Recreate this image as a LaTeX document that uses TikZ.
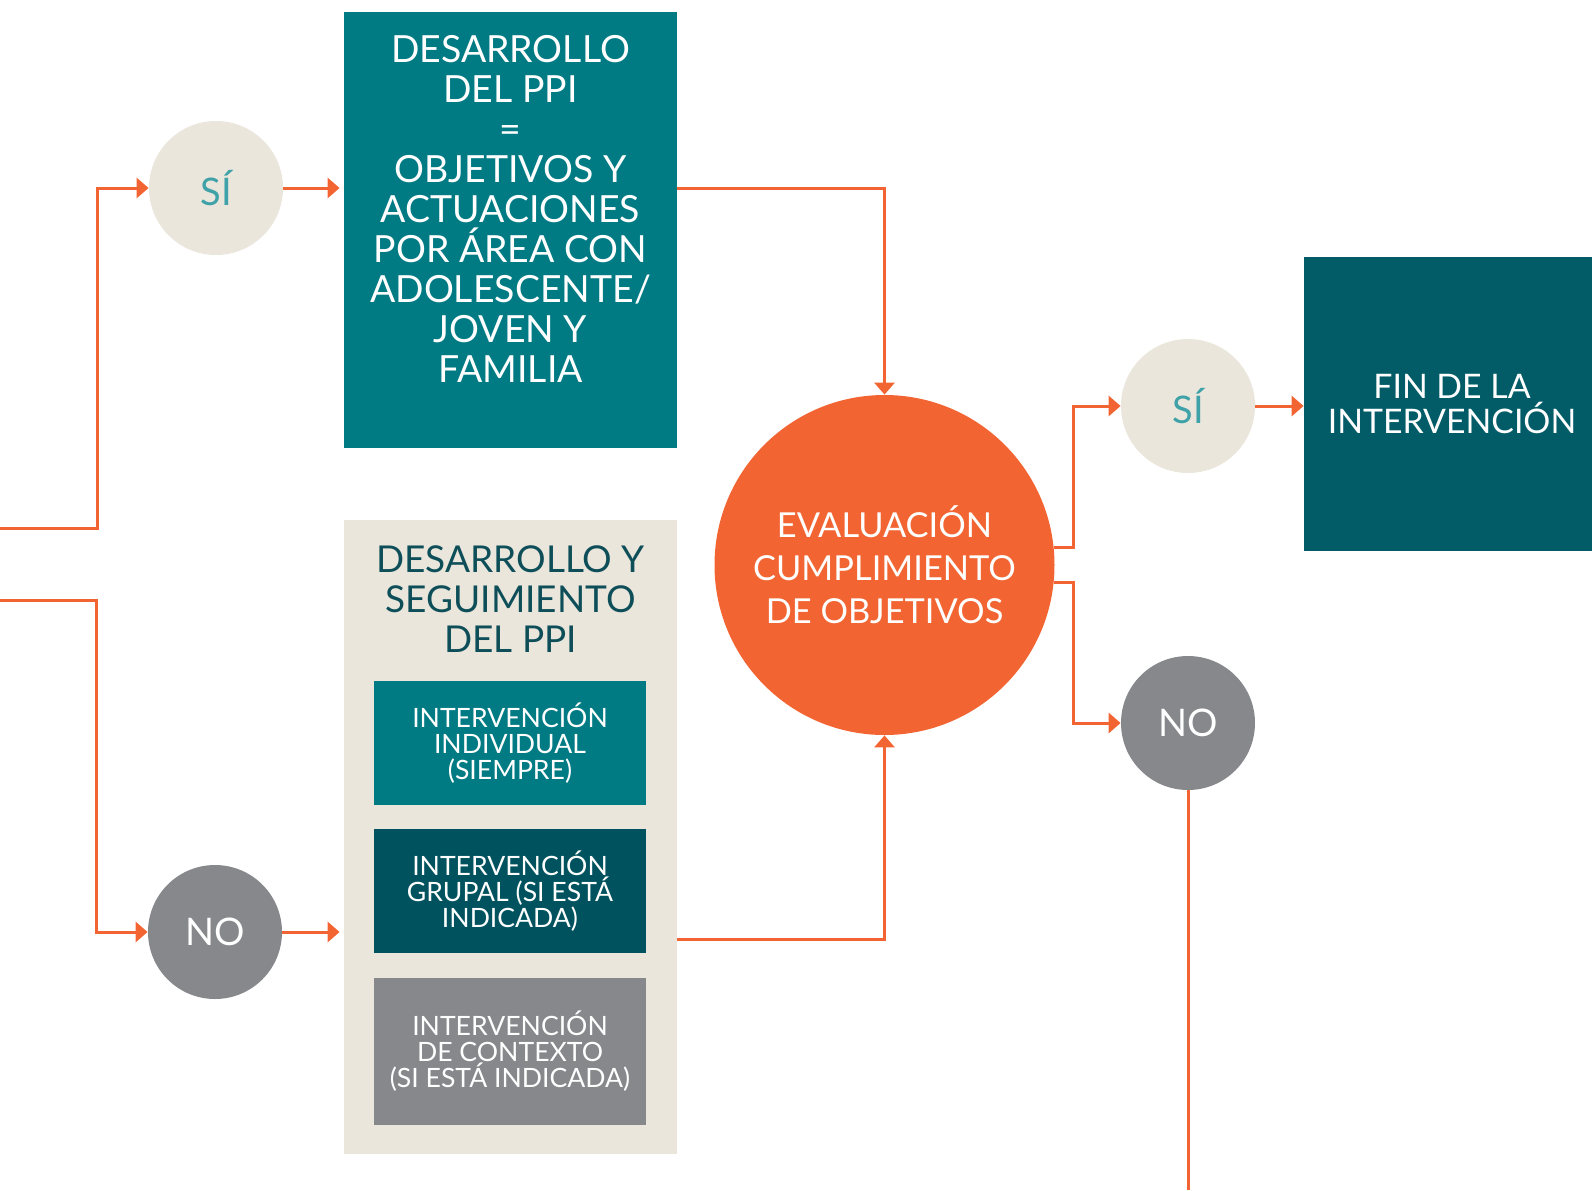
\documentclass[tikz,border=0pt]{standalone}
\usepackage{fontspec}
\setmainfont{Lato}
\usepackage{xcolor}
\usetikzlibrary{shapes,arrows.meta,positioning,calc}

\definecolor{tealbox}{HTML}{007B84}
\definecolor{darkteal}{HTML}{00535E}
\definecolor{finteal}{HTML}{025C68}
\definecolor{orangeline}{HTML}{F26532}
\definecolor{sand}{HTML}{EAE6DC}
\definecolor{slate}{HTML}{87888C}
\definecolor{sitext}{HTML}{3FA2A8}
\definecolor{titletext}{HTML}{0D4E59}

\begin{document}
\begin{tikzpicture}[x=0.5pt,y=-0.5pt,
  arrowline/.style={draw=orangeline, line width=1.5pt, -{Triangle[length=6pt,width=10pt]}},
  plainline/.style={draw=orangeline, line width=1.5pt},
  answer/.style={circle, minimum size=67pt, inner sep=0pt, font=\fontsize{19}{20}\selectfont},
  block/.style={rectangle, inner sep=0pt, text=white, align=center}]
  \useasboundingbox (0,0) rectangle (1592,1190);

  % Answers on the left
  \node[answer, fill=sand, text=sitext] (si1) at (216,188) {SÍ};
  \node[answer, fill=slate, text=white] (no1) at (215,932) {NO};

  % PPI development
  \node[block, fill=tealbox, minimum width=166.5pt, minimum height=218pt] (ppibox) at (510.5,230) {};
  \node[text=white, align=center, anchor=north, inner sep=0pt, font=\fontsize{18.7}{20}\selectfont] (ppitext) at (510.5,35)
    {DESARROLLO\\DEL PPI\\=\\OBJETIVOS Y\\ACTUACIONES\\POR ÁREA CON\\ADOLESCENTE/\\JOVEN Y\\FAMILIA};

  % Development and follow-up panel
  \node[block, fill=sand, minimum width=166.5pt, minimum height=317pt] (panel) at (510.5,837) {};
  \node[text=titletext, align=center, inner sep=0pt, font=\fontsize{18.5}{20}\selectfont] (paneltitle) at (510.5,599)
    {DESARROLLO Y\\SEGUIMIENTO\\DEL PPI};
  \node[block, fill=tealbox, minimum width=136pt, minimum height=62pt, font=\fontsize{13.3}{13}\selectfont] (indiv) at (510,743)
    {INTERVENCIÓN\\INDIVIDUAL\\(SIEMPRE)};
  \node[block, fill=darkteal, minimum width=136pt, minimum height=62pt, font=\fontsize{13.3}{13}\selectfont] (grupal) at (510,891)
    {INTERVENCIÓN\\GRUPAL (SI ESTÁ\\INDICADA)};
  \node[block, fill=slate, minimum width=136pt, minimum height=73.5pt, font=\fontsize{13.3}{13}\selectfont] (contexto) at (510,1051.5)
    {INTERVENCIÓN\\DE CONTEXTO\\(SI ESTÁ INDICADA)};

  % Evaluation
  \node[circle, fill=orangeline, minimum size=170pt, inner sep=0pt, text=white, align=center, font=\fontsize{17.2}{21.5}\selectfont] (eval) at (884.5,565)
    {EVALUACIÓN\\CUMPLIMIENTO\\DE OBJETIVOS};

  % Answers on the right
  \node[answer, fill=sand, text=sitext] (si2) at (1188,406) {SÍ};
  \node[answer, fill=slate, text=white] (no2) at (1188,723) {NO};
  \node[block, fill=finteal, minimum width=148pt, minimum height=147pt, font=\fontsize{16.9}{17.5}\selectfont] (fin) at (1452,404)
    {FIN DE LA\\INTERVENCIÓN};

  % Connectors
  \coordinate (inA) at (0,528);
  \coordinate (inB) at (0,600);
  \coordinate (outB) at (677,939);
  \coordinate (outC) at (1188,1190);
  \draw[arrowline] (inA) -| ($(si1.west)+(-51,0)$) -- (si1.west);
  \draw[arrowline] (inB) -| ($(no1.west)+(-51,0)$) -- (no1.west);
  \draw[arrowline, shorten >=2pt] (si1.east) -- (si1.east -| ppibox.west);
  \draw[arrowline, shorten >=2pt] (no1.east) -- (no1.east -| panel.west);
  \draw[arrowline] (si1.east -| ppibox.east) -| (eval.north);
  \draw[arrowline] (outB) -| (eval.south);
  \draw[arrowline] (eval.6) -- ++(20,0) |- (si2.west);
  \draw[arrowline] (eval.-6) -- ++(20,0) |- (no2.west);
  \draw[arrowline] (si2.east) -- (si2.east -| fin.west);
  \draw[plainline] (no2.south) -- (outC);
\end{tikzpicture}
\end{document}
